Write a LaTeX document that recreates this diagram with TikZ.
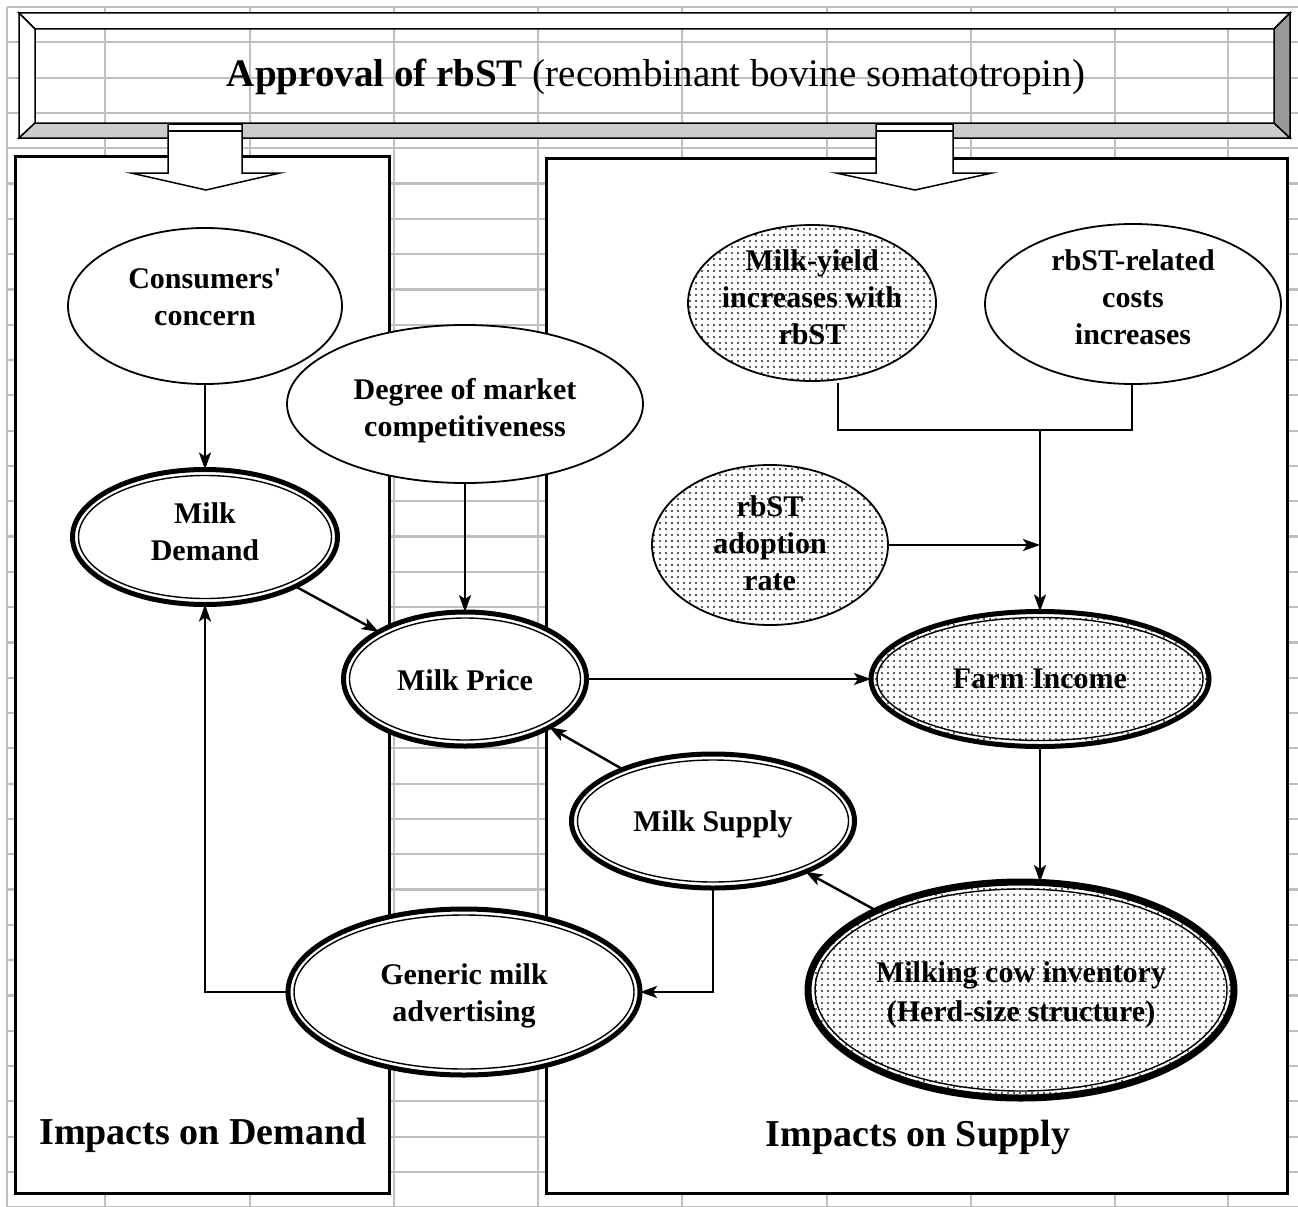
\documentclass[tikz,border=0pt]{standalone}
\usepackage{fontspec}
\setmainfont{Liberation Serif}
\usetikzlibrary{shapes.geometric,arrows.meta,patterns.meta}
% text lines of an ellipse: zero-size box, optional vertical raise
\newcommand{\elines}[2][-7.5pt]{\makebox[0pt][c]{\raisebox{#1}[0pt][0pt]{\begin{tabular}[c]{@{}c@{}}#2\end{tabular}}}}
\begin{document}
\begin{tikzpicture}[x=1pt,y=-1pt,
  gridline/.style={draw=black!25,line width=2.2pt},
  panel/.style={draw=black,line width=3pt,fill=white},
  bevel/.style={draw=black,line width=1.5pt,line join=miter},
  el/.style={ellipse,draw=black,fill=white,inner sep=0pt,outer sep=0pt,font=\bfseries\fontsize{30}{37}\selectfont},
  thinel/.style={el,line width=1.8pt},
  dblel/.style={el,line width=5pt},
  dotfill/.style={preaction={fill=white},pattern={Dots[distance=6pt,radius=1.05pt]},pattern color=black!85},
  ln/.style={line width=2.4pt},
  arr/.style={line width=2.4pt,-{Stealth[length=17pt,width=12pt,inset=4pt]}},
  blockarrow/.style={draw=black,line width=1.5pt,fill=white,line join=miter},
  paneltitle/.style={font=\bfseries\fontsize{38}{44}\selectfont}
]
\useasboundingbox (0,0) rectangle (1298,1207);
\fill[white] (0,0) rectangle (1298,1207);
% spreadsheet grid
\foreach \x in {7,105,250,394,538,682,827,971,1115,1228}
  \draw[gridline] (\x,7) -- (\x,1207);
\foreach \k in {0,...,34}
  \draw[gridline] (7,7+35.3*\k) -- (1298,7+35.3*\k);
% panels
\draw[panel] (15,156) rectangle (389,1193);
\draw[panel] (546,158) rectangle (1287,1193);
% title box (bevel)
\filldraw[bevel,fill=white] (19,13) -- (1290,13) -- (1274,29) -- (35,29) -- cycle;
\filldraw[bevel,fill=white] (19,13) -- (35,29) -- (35,123) -- (19,138) -- cycle;
\filldraw[bevel,fill=black!20] (19,138) -- (35,123) -- (1274,123) -- (1290,138) -- cycle;
\filldraw[bevel,fill=black!40] (1290,13) -- (1274,29) -- (1274,123) -- (1290,138) -- cycle;
\node (title) at (656,77) {\fontsize{39}{46}\selectfont\textbf{Approval of rbST} (recombinant bovine somatotropin)};
% block arrows
\filldraw[blockarrow] (168,124) -- (168,173) -- (131,173) -- (206,190) -- (280,173) -- (242,173) -- (242,124) -- cycle;
\draw[line width=2.5pt] (168,124) -- (242,124);
\draw[line width=1.5pt] (168,131) -- (242,131);
\filldraw[blockarrow] (876,124) -- (876,173) -- (836,173) -- (915,190) -- (992,173) -- (953,173) -- (953,124) -- cycle;
\draw[line width=2.5pt] (876,124) -- (953,124);
\draw[line width=1.5pt] (876,131) -- (953,131);
% ellipses
\node[thinel,minimum width=274pt,minimum height=156pt] (cc) at (205,306) {\elines[0.5pt]{Consumers\textquotesingle\\concern}};
\node[thinel,minimum width=356pt,minimum height=158pt] (dm) at (465,404) {\elines[-12.5pt]{Degree of market\\competitiveness}};
\node[thinel,dotfill,minimum width=248pt,minimum height=156pt] (my) at (812,303) {\elines[-3.5pt]{Milk-yield\\increases with\\rbST}};
\node[thinel,minimum width=296pt,minimum height=160pt] (rc) at (1133,304) {\elines[-2.5pt]{rbST-related\\costs\\increases}};
\node[dblel,minimum width=265pt,minimum height=135pt] (md) at (205,537) {\elines[-3.5pt]{Milk\\Demand}};
\node[thinel,dotfill,minimum width=236pt,minimum height=160pt] (ad) at (770,545) {\elines{rbST\\adoption\\rate}};
\node[dblel,minimum width=243pt,minimum height=134pt] (mp) at (465,679) {\elines[-10.5pt]{Milk Price}};
\node[dblel,dotfill,minimum width=338pt,minimum height=135pt] (fi) at (1040,679) {\elines[-8.5pt]{Farm Income}};
\node[dblel,minimum width=283pt,minimum height=134pt] (ms) at (713,821) {\elines[-9.5pt]{Milk Supply}};
\node[dblel,minimum width=352pt,minimum height=166pt] (gm) at (464,992) {\elines[-9.5pt]{Generic milk\\advertising}};
\node[dblel,line width=7pt,dotfill,minimum width=426pt,minimum height=216pt] (mc) at (1021,990) {\elines[-10.5pt]{Milking cow inventory\\[2pt](Herd-size structure)}};
% inner lines of the double ellipses
\foreach \n/\rx/\ry/\g in {md/132.5/67.5/6,mp/121.5/67/6,fi/169/67.5/6,ms/141.5/67/6,gm/176/83/6,mc/213/108/7}
  \draw[line width=1.4pt] (\n.center) ellipse [x radius=\rx-\g, y radius=\ry-\g];
% connectors
\draw[arr] (cc) -- (md);
\draw[arr] (dm) -- (mp);
\draw[arr] (md) -- (mp);
\draw[arr] (mp) -- (fi);
\draw[arr] (ms) -- (mp);
\draw[arr] (mc) -- (ms);
\draw[arr] (ms.south) |- (gm.east);
\draw[arr] (gm.west) -| (md.south);
\coordinate (jl) at (838,430);
\coordinate (jr) at (1132,430);
\coordinate (jm) at (1040,430);
\draw[ln] ([yshift=-2pt]my.south -| jl) -- (jl) -- (jr) -- (jr |- rc.south);
\draw[arr] (jm) -- (jm |- fi.north);
\draw[arr] (ad.east) -- (ad.east -| jm);
\draw[arr] (fi.south) -- (fi.south |- mc.north);
% panel titles
\node[paneltitle] (ld) at (203,1135) {Impacts on Demand};
\node[paneltitle] (ls) at (918,1137) {Impacts on Supply};
\end{tikzpicture}
\end{document}
